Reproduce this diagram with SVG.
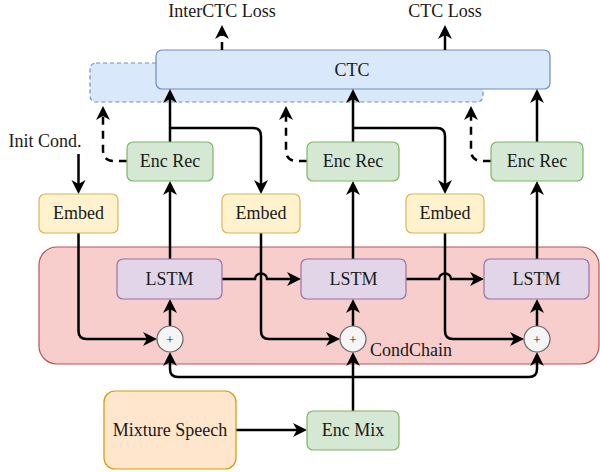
<svg xmlns="http://www.w3.org/2000/svg" width="600" height="472" viewBox="0 0 600 472">
  <style>
    text { font-family: "Liberation Serif", "Times New Roman", serif; font-size: 18px; fill: #1a1a1a; text-anchor: middle; }
    .ctc { fill: #dae8fc; stroke: #6c8ebf; stroke-width: 1.2; }
    .ctc-ghost { fill: #dae8fc; stroke: #6c8ebf; stroke-width: 1.2; stroke-dasharray: 4 3; }
    .enc { fill: #d5e8d4; stroke: #82b366; stroke-width: 1.2; }
    .emb { fill: #fff2cc; stroke: #d6b656; stroke-width: 1.2; }
    .lstm { fill: #e1d5e7; stroke: #9673a6; stroke-width: 1.2; }
    .chain { fill: #f8cecc; stroke: #b85450; stroke-width: 1.2; }
    .mix { fill: #ffe6cc; stroke: #d79b00; stroke-width: 1.2; }
    .sum { fill: #f5f5f5; stroke: #666666; stroke-width: 1.2; }
    .plus { font-size: 13px; }
    .edge { fill: none; stroke: #000; stroke-width: 2.5; marker-end: url(#arrow); }
    .dash { stroke-dasharray: 8 6; }
  </style>
  <defs>
    <marker id="arrow" markerUnits="userSpaceOnUse" markerWidth="16" markerHeight="16" refX="4" refY="7" orient="auto">
      <path d="M0,0 L14,7 L0,14 L4,7 Z" fill="#000"/>
    </marker>
  </defs>

  <!-- containers -->
  <g id="condchain">
    <rect class="chain" x="39" y="247" width="560" height="117" rx="18"/>
    <text x="370" y="356" style="text-anchor:start">CondChain</text>
  </g>
  <g id="ctc-inter">
    <rect class="ctc-ghost" x="90" y="63" width="393" height="39" rx="6"/>
  </g>
  <g id="ctc">
    <rect class="ctc" x="156" y="50" width="394" height="39" rx="6"/>
    <text x="352" y="76">CTC</text>
  </g>

  <!-- connectors -->
  <g id="connectors">
    <!-- losses -->
    <path class="edge dash" d="M222,50 L222,35"/>
    <path class="edge" d="M445,50 L445,35"/>
    <!-- initial condition -->
    <path class="edge" d="M78.5,154 L78.5,184"/>
    <!-- embed to sum -->
    <path class="edge" d="M78.5,233 L78.5,331 Q78.5,339 86.5,339 L147,339"/>
    <path class="edge" d="M261,233 L261,331 Q261,339 269,339 L330,339"/>
    <path class="edge" d="M445,233 L445,331 Q445,339 453,339 L514,339"/>
    <!-- sum to LSTM -->
    <path class="edge" d="M170,326 L170,309"/>
    <path class="edge" d="M353,326 L353,309"/>
    <path class="edge" d="M537,326 L537,309"/>
    <!-- LSTM to Enc Rec -->
    <path class="edge" d="M170,259 L170,191"/>
    <path class="edge" d="M353,259 L353,191"/>
    <path class="edge" d="M537,259 L537,191"/>
    <!-- Enc Rec to CTC -->
    <path class="edge" d="M170,142 L170,99"/>
    <path class="edge" d="M353,142 L353,99"/>
    <path class="edge" d="M537,142 L537,99"/>
    <!-- Enc Rec to next Embed -->
    <path class="edge" d="M170,128 L253,128 Q261,128 261,136 L261,184"/>
    <path class="edge" d="M353,128 L437,128 Q445,128 445,136 L445,184"/>
    <!-- Enc Rec to intermediate CTC -->
    <path class="edge dash" d="M127,161 L114,161 Q103,161 103,150 L103,116"/>
    <path class="edge dash" d="M307,161 L297,161 Q286,161 286,150 L286,116"/>
    <path class="edge dash" d="M491,161 L482,161 Q471,161 471,150 L471,116"/>
    <!-- LSTM chain with line jumps -->
    <path class="edge" d="M222,279 L255,279 A6,5.5 0 0 1 267,279 L291,279"/>
    <path class="edge" d="M406,279 L439,279 A6,5.5 0 0 1 451,279 L474,279"/>
    <!-- mixture encoding -->
    <path class="edge" d="M236,430 L297,430"/>
    <path class="edge" d="M353,411 L353,362"/>
    <path class="edge" d="M353,377 L178,377 Q170,377 170,369 L170,362"/>
    <path class="edge" d="M353,377 L529,377 Q537,377 537,369 L537,362"/>
  </g>

  <!-- loss labels -->
  <g id="interctc-loss"><text x="222" y="17">InterCTC Loss</text></g>
  <g id="ctc-loss"><text x="445" y="17">CTC Loss</text></g>
  <g id="init-cond"><text x="45" y="147">Init Cond.</text></g>

  <!-- column 1 -->
  <g id="enc-rec-1"><rect class="enc" x="127" y="142" width="86" height="39" rx="6"/><text x="170" y="167">Enc Rec</text></g>
  <g id="embed-1"><rect class="emb" x="39" y="194" width="79" height="39" rx="6"/><text x="78.5" y="219">Embed</text></g>
  <g id="lstm-1"><rect class="lstm" x="117" y="259" width="105" height="40" rx="6"/><text x="169.5" y="285">LSTM</text></g>
  <g id="sum-1"><circle class="sum" cx="170" cy="339" r="13"/><text class="plus" x="170" y="343.5">+</text></g>

  <!-- column 2 -->
  <g id="enc-rec-2"><rect class="enc" x="307" y="142" width="92" height="39" rx="6"/><text x="353" y="167">Enc Rec</text></g>
  <g id="embed-2"><rect class="emb" x="222" y="194" width="78" height="39" rx="6"/><text x="261" y="219">Embed</text></g>
  <g id="lstm-2"><rect class="lstm" x="301" y="259" width="105" height="40" rx="6"/><text x="353.5" y="285">LSTM</text></g>
  <g id="sum-2"><circle class="sum" cx="353" cy="339" r="13"/><text class="plus" x="353" y="343.5">+</text></g>

  <!-- column 3 -->
  <g id="enc-rec-3"><rect class="enc" x="491" y="142" width="92" height="39" rx="6"/><text x="537" y="167">Enc Rec</text></g>
  <g id="embed-3"><rect class="emb" x="406" y="194" width="78" height="39" rx="6"/><text x="445" y="219">Embed</text></g>
  <g id="lstm-3"><rect class="lstm" x="484" y="259" width="105" height="40" rx="6"/><text x="536.5" y="285">LSTM</text></g>
  <g id="sum-3"><circle class="sum" cx="537" cy="339" r="13"/><text class="plus" x="537" y="343.5">+</text></g>

  <!-- input -->
  <g id="mixture-speech"><rect class="mix" x="104" y="391" width="132" height="78" rx="11"/><text x="170" y="436">Mixture Speech</text></g>
  <g id="enc-mix"><rect class="enc" x="307" y="411" width="92" height="39" rx="6"/><text x="353" y="436">Enc Mix</text></g>
</svg>
